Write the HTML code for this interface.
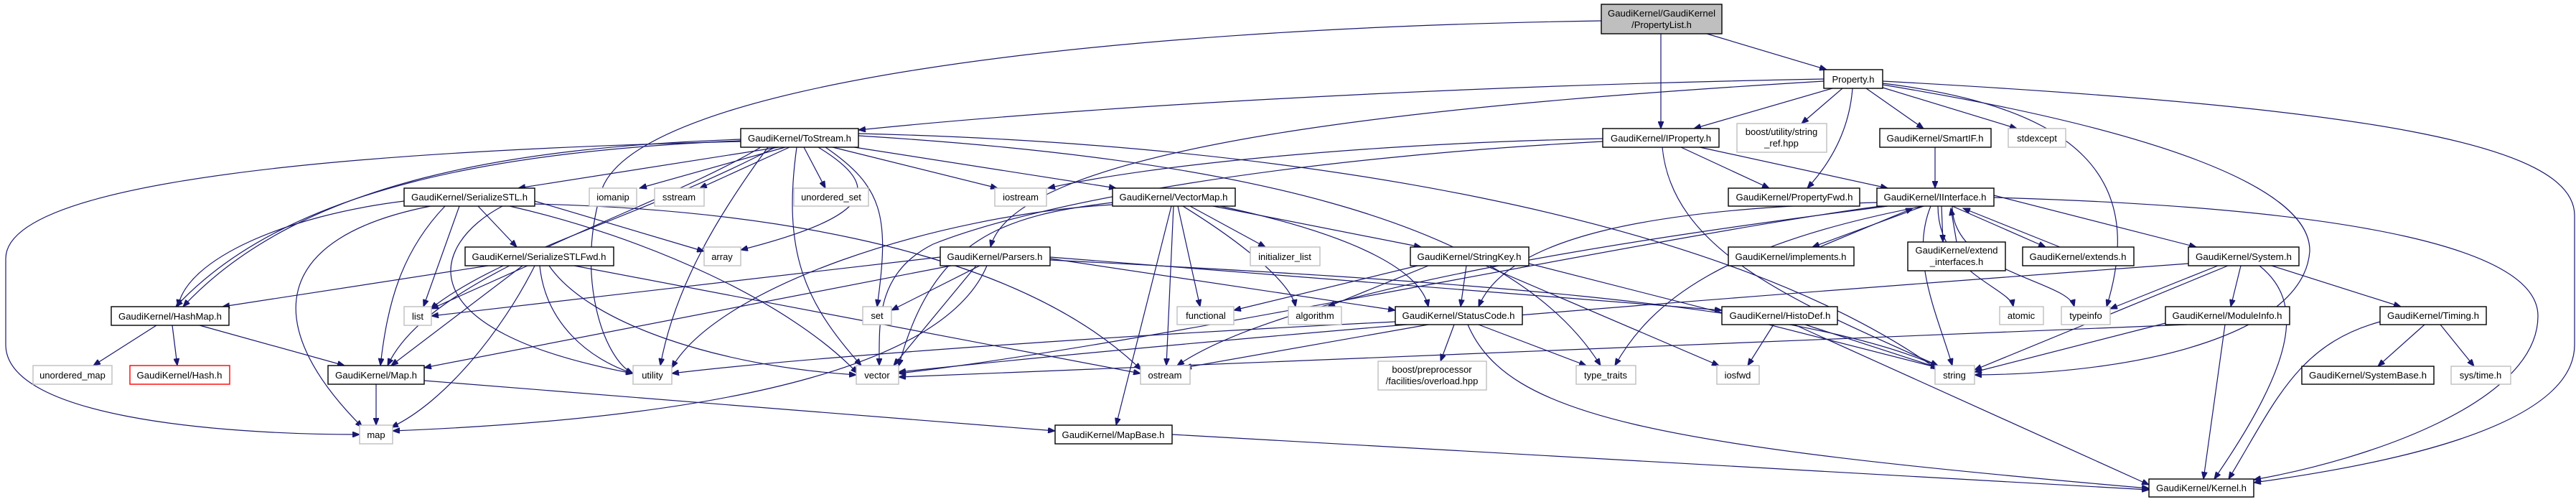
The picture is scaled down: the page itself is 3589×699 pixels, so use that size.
<!DOCTYPE html>
<html><head><meta charset="utf-8"><style>
html,body{margin:0;padding:0;background:#fff;}
svg{display:block}
text{font-family:"Liberation Sans",Helvetica,Arial,sans-serif;font-size:13px;fill:#000}
.e{fill:none;stroke:#191970;stroke-width:1.2;marker-end:url(#a)}
.n{fill:#fff;stroke:#000;stroke-width:1.4}
.s{fill:#fff;stroke:#bfbfbf;stroke-width:1.4}
</style></head><body>
<svg width="3589" height="699" viewBox="0 0 3589 699" xmlns="http://www.w3.org/2000/svg">
<defs><marker id="a" markerUnits="userSpaceOnUse" markerWidth="11" markerHeight="8" refX="10" refY="4" orient="auto"><path d="M0,0 L10,4 L0,8 z" fill="#191970" stroke="#191970"/></marker></defs>
<g>
<!-- root -->
<path class="e" d="M2314,47 L2314,179"/>
<path class="e" d="M2378,47 L2545,97"/>
<path class="e" d="M2231,29 C1500,40 900,120 840,260 C800,380 840,500 882,520"/>
<!-- Property -->
<path class="e" d="M2541,110 C2000,120 1500,150 1196,181"/>
<path class="e" d="M2541,113 C2100,140 1420,190 1380,344"/>
<path class="e" d="M2553,123 L2360,179"/>
<path class="e" d="M2567,123 L2510,172"/>
<path class="e" d="M2581,123 Q2575,200 2518,262"/>
<path class="e" d="M2600,123 L2680,179"/>
<path class="e" d="M2623,122 L2810,179"/>
<path class="e" d="M2623,113 C3300,150 3587,200 3587,300 L3587,480 C3587,600 3300,650 3140,672"/>
<path class="e" d="M2623,116 C2900,150 2990,250 2935,427"/>
<path class="e" d="M2623,118 C3000,180 3220,260 3218,350 C3210,460 3000,520 2751,522"/>
<!-- IProperty -->
<path class="e" d="M2342,205 L2465,262"/>
<path class="e" d="M2368,205 L2630,262"/>
<path class="e" d="M2316,205 C2330,350 2500,420 2700,509"/>
<path class="e" d="M2233,193 C1900,200 1600,230 1460,262"/>
<path class="e" d="M2233,197 C1800,220 1450,280 1300,340 C1220,380 1225,450 1225,509"/>
<path class="e" d="M2696,205 L2696,262"/>
<!-- ToStream -->
<path class="e" d="M1085,205 L722,262"/>
<path class="e" d="M1094,205 L891,262"/>
<path class="e" d="M1100,205 L975,262"/>
<path class="e" d="M1120,205 L1150,262"/>
<path class="e" d="M1160,205 L1390,262"/>
<path class="e" d="M1190,205 L1555,262"/>
<path class="e" d="M1150,205 C1230,260 1240,300 1222,427"/>
<path class="e" d="M1140,205 C1230,260 1220,300 1032,348"/>
<path class="e" d="M1032,196 C700,210 400,260 245,427"/>
<path class="e" d="M1032,194 C720,205 420,250 255,427"/>
<path class="e" d="M1032,197 C500,210 8,250 8,360 L8,480 C8,580 300,605 501,605"/>
<path class="e" d="M1110,205 C1090,350 1120,420 1200,509"/>
<path class="e" d="M1196,186 C1800,200 2400,300 2700,515"/>
<path class="e" d="M1196,189 C1700,220 2100,300 2230,509"/>
<path class="e" d="M1070,205 C1000,300 940,400 920,509"/>
<path class="e" d="M1080,205 C900,300 700,350 600,430"/>
<path class="e" d="M1060,205 C900,300 600,380 540,509"/>
<!-- SerializeSTL -->
<path class="e" d="M563,280 C400,300 260,360 248,427"/>
<path class="e" d="M640,287 L590,427"/>
<path class="e" d="M620,287 C560,350 540,420 530,509"/>
<path class="e" d="M600,287 C380,330 360,450 505,595"/>
<path class="e" d="M666,287 L720,344"/>
<path class="e" d="M700,287 C600,340 560,460 882,520"/>
<path class="e" d="M710,287 C900,330 1100,420 1195,520"/>
<path class="e" d="M745,280 L981,350"/>
<path class="e" d="M745,284 C1000,290 1400,330 1590,515"/>
<!-- SerializeSTLFwd -->
<path class="e" d="M680,370 L310,427"/>
<path class="e" d="M735,370 L601,430"/>
<path class="e" d="M728,370 L545,509"/>
<path class="e" d="M745,370 C700,460 620,560 545,595"/>
<path class="e" d="M752,370 C760,450 820,500 882,520"/>
<path class="e" d="M765,370 C820,450 1000,510 1193,522"/>
<path class="e" d="M800,370 L1589,520"/>
<!-- HashMap / Map -->
<path class="e" d="M218,453 L130,509"/>
<path class="e" d="M240,453 L247,509"/>
<path class="e" d="M278,453 L480,509"/>
<path class="e" d="M524,535 L524,592"/>
<path class="e" d="M591,530 L1470,600"/>
<!-- VectorMap -->
<path class="e" d="M1658,287 L1763,344"/>
<path class="e" d="M1690,287 L1980,344"/>
<path class="e" d="M1550,282 C1400,300 1300,330 1252,510"/>
<path class="e" d="M1635,287 L1625,509"/>
<path class="e" d="M1641,287 L1672,427"/>
<path class="e" d="M1648,287 C1750,350 1800,400 1805,427"/>
<path class="e" d="M1632,287 L1555,592"/>
<path class="e" d="M1700,287 C1900,330 1980,380 1990,427"/>
<path class="e" d="M1550,285 C1300,300 1000,400 936,512"/>
<!-- Parsers -->
<path class="e" d="M1310,358 L601,440"/>
<path class="e" d="M1365,370 L1242,432"/>
<path class="e" d="M1360,370 L1245,509"/>
<path class="e" d="M1375,370 C1320,500 1050,580 547,600"/>
<path class="e" d="M1325,370 L591,512"/>
<path class="e" d="M1463,360 L1944,432"/>
<path class="e" d="M1463,358 L2399,432"/>
<path class="e" d="M1463,362 C2000,390 2500,420 2700,510"/>
<!-- StringKey -->
<path class="e" d="M1975,370 L1719,432"/>
<path class="e" d="M1990,370 L1850,427"/>
<path class="e" d="M2070,370 L2395,509"/>
<path class="e" d="M2130,367 L2700,512"/>
<path class="e" d="M2043,370 L2035,427"/>
<!-- StatusCode -->
<path class="e" d="M2026,452 L2007,503"/>
<path class="e" d="M2060,452 L2210,509"/>
<path class="e" d="M1990,452 L1650,512"/>
<path class="e" d="M1944,448 C1500,470 1100,500 936,520"/>
<path class="e" d="M2045,452 C2100,580 2300,620 2994,680"/>
<!-- HistoDef -->
<path class="e" d="M2471,452 L2435,509"/>
<path class="e" d="M2515,452 L2700,512"/>
<path class="e" d="M2500,452 L2994,675"/>
<!-- IInterface -->
<path class="e" d="M2615,282 C2300,290 2100,330 2060,427"/>
<path class="e" d="M2778,272 L3060,344"/>
<path class="e" d="M2680,287 L2525,344"/>
<path class="e" d="M2705,287 L2707,337"/>
<path class="e" d="M2720,287 L2850,344"/>
<path class="e" d="M2630,287 C2300,330 1800,400 1640,509"/>
<path class="e" d="M2680,287 C2400,340 2300,420 2250,509"/>
<path class="e" d="M2690,287 C2660,360 2700,440 2720,509"/>
<path class="e" d="M2700,287 C2700,380 2800,400 2805,427"/>
<path class="e" d="M2720,287 C2720,380 2880,390 2890,427"/>
<path class="e" d="M2778,275 C3300,290 3536,350 3536,440 C3536,560 3300,640 3140,668"/>
<path class="e" d="M2620,287 C2300,330 1600,480 1252,520"/>
<path class="e" d="M2535,344 L2665,290"/>
<path class="e" d="M2726,337 L2718,290"/>
<path class="e" d="M2870,344 L2735,290"/>
<!-- System -->
<path class="e" d="M3090,370 L2940,430"/>
<path class="e" d="M3122,370 L3108,427"/>
<path class="e" d="M3165,370 L3345,427"/>
<path class="e" d="M3104,370 L2751,515"/>
<path class="e" d="M3148,370 C3210,420 3200,500 3085,667"/>
<path class="e" d="M3049,367 C2600,400 1800,460 1252,518"/>
<path class="e" d="M3100,452 L3070,667"/>
<path class="e" d="M3017,450 L2751,518"/>
<path class="e" d="M3047,452 L1252,525"/>
<path class="e" d="M3378,452 L3313,510"/>
<path class="e" d="M3400,452 L3447,510"/>
<path class="e" d="M3316,448 C3200,480 3170,560 3105,667"/>
<path class="e" d="M1633,605 L2994,682"/>
</g>
<g text-anchor="middle">
<rect x="2231" y="6" width="168" height="41" fill="#bfbfbf" stroke="#000" stroke-width="1.4"/>
<text x="2315" y="23" textLength="150" lengthAdjust="spacingAndGlyphs">GaudiKernel/GaudiKernel</text>
<text x="2315" y="39">/PropertyList.h</text>

<rect class="n" x="2541" y="97" width="82" height="26"/><text x="2582" y="115">Property.h</text>
<rect class="n" x="2233" y="179" width="162" height="26"/><text x="2314" y="197" textLength="140" lengthAdjust="spacingAndGlyphs">GaudiKernel/IProperty.h</text>
<rect class="s" x="2420" y="172" width="125" height="40"/><text x="2482" y="188">boost/utility/string</text><text x="2482" y="204">_ref.hpp</text>
<rect class="n" x="2619" y="179" width="155" height="26"/><text x="2696" y="197" textLength="135" lengthAdjust="spacingAndGlyphs">GaudiKernel/SmartIF.h</text>
<rect class="s" x="2798" y="179" width="80" height="26"/><text x="2838" y="197">stdexcept</text>
<rect class="n" x="1032" y="179" width="164" height="26"/><text x="1114" y="197" textLength="144" lengthAdjust="spacingAndGlyphs">GaudiKernel/ToStream.h</text>
<rect class="n" x="2408" y="262" width="183" height="25"/><text x="2500" y="279" textLength="163" lengthAdjust="spacingAndGlyphs">GaudiKernel/PropertyFwd.h</text>
<rect class="n" x="2615" y="262" width="163" height="25"/><text x="2696" y="279" textLength="143" lengthAdjust="spacingAndGlyphs">GaudiKernel/IInterface.h</text>
<rect class="n" x="563" y="262" width="182" height="25"/><text x="654" y="279" textLength="162" lengthAdjust="spacingAndGlyphs">GaudiKernel/SerializeSTL.h</text>
<rect class="s" x="821" y="262" width="66" height="25"/><text x="854" y="279">iomanip</text>
<rect class="s" x="912" y="262" width="69" height="25"/><text x="946" y="279">sstream</text>
<rect class="s" x="1106" y="262" width="104" height="25"/><text x="1158" y="279">unordered_set</text>
<rect class="s" x="1386" y="262" width="72" height="25"/><text x="1422" y="279">iostream</text>
<rect class="n" x="1550" y="262" width="171" height="25"/><text x="1635" y="279" textLength="151" lengthAdjust="spacingAndGlyphs">GaudiKernel/VectorMap.h</text>
<rect class="n" x="648" y="344" width="207" height="26"/><text x="751" y="362" textLength="187" lengthAdjust="spacingAndGlyphs">GaudiKernel/SerializeSTLFwd.h</text>
<rect class="s" x="981" y="344" width="51" height="26"/><text x="1006" y="362">array</text>
<rect class="n" x="1310" y="344" width="153" height="26"/><text x="1386" y="362" textLength="133" lengthAdjust="spacingAndGlyphs">GaudiKernel/Parsers.h</text>
<rect class="s" x="1742" y="344" width="97" height="26"/><text x="1790" y="362">initializer_list</text>
<rect class="n" x="1965" y="344" width="165" height="26"/><text x="2047" y="362" textLength="145" lengthAdjust="spacingAndGlyphs">GaudiKernel/StringKey.h</text>
<rect class="n" x="2408" y="344" width="175" height="26"/><text x="2495" y="362" textLength="155" lengthAdjust="spacingAndGlyphs">GaudiKernel/implements.h</text>
<rect class="n" x="2658" y="337" width="136" height="40"/><text x="2726" y="353">GaudiKernel/extend</text><text x="2726" y="369">_interfaces.h</text>
<rect class="n" x="2818" y="344" width="155" height="26"/><text x="2895" y="362" textLength="135" lengthAdjust="spacingAndGlyphs">GaudiKernel/extends.h</text>
<rect class="n" x="3049" y="344" width="154" height="26"/><text x="3126" y="362" textLength="134" lengthAdjust="spacingAndGlyphs">GaudiKernel/System.h</text>
<rect class="n" x="155" y="427" width="164" height="26"/><text x="237" y="445" textLength="144" lengthAdjust="spacingAndGlyphs">GaudiKernel/HashMap.h</text>
<rect class="s" x="563" y="427" width="38" height="26"/><text x="582" y="445">list</text>
<rect class="s" x="1202" y="427" width="40" height="25"/><text x="1222" y="444">set</text>
<rect class="s" x="1640" y="427" width="79" height="25"/><text x="1680" y="444">functional</text>
<rect class="s" x="1795" y="427" width="74" height="25"/><text x="1832" y="444">algorithm</text>
<rect class="n" x="1944" y="427" width="177" height="25"/><text x="2032" y="444" textLength="157" lengthAdjust="spacingAndGlyphs">GaudiKernel/StatusCode.h</text>
<rect class="n" x="2399" y="427" width="161" height="25"/><text x="2480" y="444" textLength="141" lengthAdjust="spacingAndGlyphs">GaudiKernel/HistoDef.h</text>
<rect class="s" x="2786" y="427" width="61" height="25"/><text x="2816" y="444">atomic</text>
<rect class="s" x="2872" y="427" width="68" height="25"/><text x="2906" y="444">typeinfo</text>
<rect class="n" x="3017" y="427" width="173" height="25"/><text x="3103" y="444" textLength="153" lengthAdjust="spacingAndGlyphs">GaudiKernel/ModuleInfo.h</text>
<rect class="n" x="3316" y="427" width="148" height="25"/><text x="3390" y="444" textLength="128" lengthAdjust="spacingAndGlyphs">GaudiKernel/Timing.h</text>
<rect class="s" x="46" y="509" width="110" height="26"/><text x="101" y="527">unordered_map</text>
<rect x="181" y="509" width="139" height="26" fill="#fff" stroke="#ff0000" stroke-width="1.4"/><text x="250" y="527" textLength="119" lengthAdjust="spacingAndGlyphs">GaudiKernel/Hash.h</text>
<rect class="n" x="457" y="509" width="134" height="26"/><text x="524" y="527" textLength="114" lengthAdjust="spacingAndGlyphs">GaudiKernel/Map.h</text>
<rect class="s" x="882" y="509" width="54" height="26"/><text x="909" y="527">utility</text>
<rect class="s" x="1193" y="509" width="59" height="26"/><text x="1222" y="527">vector</text>
<rect class="s" x="1589" y="509" width="69" height="26"/><text x="1623" y="527">ostream</text>
<rect class="s" x="1920" y="503" width="151" height="40"/><text x="1995" y="519">boost/preprocessor</text><text x="1995" y="535">/facilities/overload.hpp</text>
<rect class="s" x="2196" y="509" width="83" height="26"/><text x="2237" y="527">type_traits</text>
<rect class="s" x="2392" y="509" width="59" height="26"/><text x="2421" y="527">iosfwd</text>
<rect class="s" x="2696" y="509" width="55" height="26"/><text x="2723" y="527">string</text>
<rect class="n" x="3207" y="510" width="184" height="25"/><text x="3299" y="527" textLength="164" lengthAdjust="spacingAndGlyphs">GaudiKernel/SystemBase.h</text>
<rect class="s" x="3415" y="510" width="83" height="25"/><text x="3456" y="527">sys/time.h</text>
<rect class="s" x="501" y="592" width="46" height="26"/><text x="524" y="610">map</text>
<rect class="n" x="1470" y="592" width="163" height="26"/><text x="1551" y="610" textLength="143" lengthAdjust="spacingAndGlyphs">GaudiKernel/MapBase.h</text>
<rect class="n" x="2994" y="667" width="146" height="25"/><text x="3067" y="684" textLength="126" lengthAdjust="spacingAndGlyphs">GaudiKernel/Kernel.h</text>
</g>
</svg>
</body></html>
